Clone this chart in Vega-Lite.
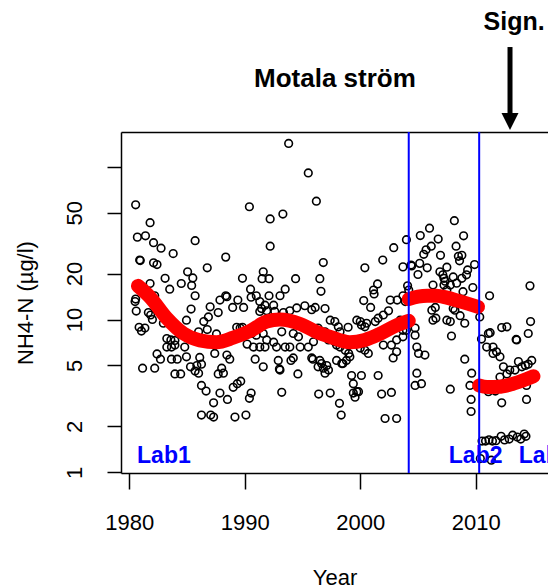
{
  "$schema": "https://vega.github.io/schema/vega-lite/v6.json",
  "width": 427,
  "height": 341,
  "autosize": {"type": "none"},
  "padding": {"left": 121, "top": 132, "right": 0, "bottom": 115},
  "background": "white",
  "config": {"view": {"stroke": null}, "font": "Liberation Sans"},
  "resolve": {"axis": {"x": "independent"}},
  "datasets": {
    "obs": [
      {"year":1993.8,"nh4":142},{"year":1995.5,"nh4":91},{"year":1996.2,"nh4":59.5},{"year":1980.55,"nh4":56.3},{"year":1990.4,"nh4":54.7},{"year":1993.3,"nh4":49},{"year":1992.2,"nh4":45.5},{"year":1981.8,"nh4":43},{"year":1980.7,"nh4":34.6},{"year":1981.4,"nh4":35.3},{"year":1982.1,"nh4":31.8},{"year":1982.75,"nh4":29.3},{"year":1985.7,"nh4":32.8},{"year":1983.8,"nh4":27},{"year":1992.2,"nh4":30.2},{"year":1988.35,"nh4":25.6},{"year":1980.9,"nh4":24.5},{"year":1980.95,"nh4":24.3},{"year":1982.1,"nh4":23.5},{"year":1982.4,"nh4":22.9},{"year":1986.75,"nh4":21.8},{"year":1996.8,"nh4":23.6},{"year":1985.05,"nh4":20.5},{"year":1985.5,"nh4":18.7},{"year":1983.1,"nh4":18.6},{"year":1981.8,"nh4":17.2},{"year":1984.5,"nh4":17.2},{"year":1985.4,"nh4":16.7},{"year":1983.5,"nh4":15.8},{"year":1989.8,"nh4":18.6},{"year":1990.5,"nh4":15.8},{"year":1991.6,"nh4":20.5},{"year":1991.5,"nh4":18.5},{"year":1992.1,"nh4":18.5},{"year":1994.4,"nh4":18.5},{"year":1996.5,"nh4":18.5},{"year":1996.6,"nh4":15.3},{"year":1993.5,"nh4":15.8},{"year":1993.05,"nh4":14.3},{"year":1992.1,"nh4":14.3},{"year":1991.0,"nh4":14.3},{"year":1988.35,"nh4":14.3},{"year":1987.85,"nh4":13.4},{"year":1989.4,"nh4":13.4},{"year":1985.7,"nh4":14.3},{"year":1982.2,"nh4":14.3},{"year":1980.55,"nh4":13.6},
      {"year":2008.15,"nh4":44.3},{"year":2006.0,"nh4":39.6},{"year":2005.2,"nh4":35.4},{"year":2008.95,"nh4":35.3},{"year":2006.75,"nh4":33.6},{"year":2004.0,"nh4":33.3},{"year":2002.9,"nh4":29.5},{"year":2006.15,"nh4":30.2},{"year":2005.7,"nh4":28.6},{"year":2008.3,"nh4":30.2},{"year":2005.5,"nh4":26.7},{"year":2001.95,"nh4":24.5},{"year":2006.95,"nh4":26.3},{"year":2008.5,"nh4":25.9},{"year":2008.8,"nh4":26.3},{"year":2008.6,"nh4":24.2},{"year":2000.4,"nh4":21.8},{"year":2004.4,"nh4":22.7},{"year":2004.45,"nh4":22.4},{"year":2005.15,"nh4":23.3},{"year":2005.8,"nh4":21.8},{"year":2007.5,"nh4":22},{"year":2009.9,"nh4":22.9},{"year":2009.3,"nh4":21.1},{"year":2009.2,"nh4":19.6},{"year":2005.0,"nh4":19.7},{"year":2006.9,"nh4":20.5},{"year":2007.15,"nh4":19.6},{"year":2007.25,"nh4":18.6},{"year":2007.35,"nh4":17.8},{"year":2008.35,"nh4":17.3},{"year":2008.8,"nh4":18.6},{"year":2009.75,"nh4":16.2},{"year":2008.9,"nh4":15.2},{"year":2011.2,"nh4":14.3},{"year":2014.7,"nh4":16.6},{"year":2001.5,"nh4":17.1},{"year":2001.15,"nh4":15.6},{"year":2001.2,"nh4":14.7},{"year":2000.3,"nh4":13.3},{"year":2002.6,"nh4":13.4},{"year":2003.2,"nh4":13.4},{"year":2004.1,"nh4":16.6},{"year":2004.2,"nh4":15.6},{"year":2003.7,"nh4":14.3},{"year":2006.3,"nh4":16.8},{"year":2007.25,"nh4":16.8},{"year":2007.5,"nh4":15.6},
      {"year":1980.5,"nh4":13.1},{"year":1980.6,"nh4":11.35},{"year":1981.65,"nh4":11.1},{"year":1981.85,"nh4":10.7},{"year":1982.0,"nh4":10.0},{"year":1980.85,"nh4":8.9},{"year":1981.05,"nh4":8.4},{"year":1981.35,"nh4":8.8},{"year":1982.95,"nh4":9.45},{"year":1984.95,"nh4":9.9},{"year":1985.35,"nh4":11.7},{"year":1987.0,"nh4":12.1},{"year":1986.85,"nh4":10.4},{"year":1986.45,"nh4":9.7},{"year":1987.7,"nh4":11.1},{"year":1988.45,"nh4":14.1},{"year":1988.95,"nh4":12},{"year":1989.9,"nh4":12},{"year":1990.55,"nh4":14},{"year":1991.3,"nh4":13.1},{"year":1991.45,"nh4":11.8},{"year":1986.0,"nh4":8.3},{"year":1986.75,"nh4":8.6},{"year":1987.55,"nh4":8.05},{"year":1989.3,"nh4":8.9},{"year":1989.6,"nh4":8.8},{"year":1989.8,"nh4":8.9},{"year":1990.6,"nh4":8.1},{"year":1991.0,"nh4":7.9},{"year":1983.25,"nh4":7.5},{"year":1983.6,"nh4":7.35},{"year":1983.95,"nh4":7.3},{"year":1983.25,"nh4":6.6},{"year":1983.65,"nh4":6.6},{"year":1983.95,"nh4":6.8},{"year":1984.8,"nh4":6.6},{"year":1990.2,"nh4":6.9},{"year":1990.75,"nh4":6.6},{"year":1982.4,"nh4":5.95},{"year":1982.7,"nh4":5.5},{"year":1983.65,"nh4":5.5},{"year":1984.15,"nh4":5.5},{"year":1984.95,"nh4":5.7},{"year":1986.1,"nh4":5.65},{"year":1986.25,"nh4":5.1},{"year":1987.4,"nh4":6.0},{"year":1988.45,"nh4":5.85},{"year":1988.7,"nh4":5.5},{"year":1990.9,"nh4":5.5},{"year":1981.15,"nh4":4.8},{"year":1982.2,"nh4":4.8},{"year":1983.95,"nh4":4.4},{"year":1984.45,"nh4":4.4},{"year":1985.3,"nh4":4.9},{"year":1985.7,"nh4":4.6},{"year":1986.0,"nh4":4.45},{"year":1985.85,"nh4":5.0},{"year":1987.7,"nh4":4.4},{"year":1988.15,"nh4":4.45},{"year":1988.0,"nh4":4.8},{"year":1986.25,"nh4":3.7},{"year":1986.65,"nh4":3.4},{"year":1987.3,"nh4":2.85},{"year":1987.85,"nh4":3.3},{"year":1988.5,"nh4":3.0},{"year":1989.0,"nh4":3.6},{"year":1989.35,"nh4":3.8},{"year":1989.65,"nh4":3.95},{"year":1990.55,"nh4":3.3},{"year":1990.4,"nh4":3.05},{"year":1986.25,"nh4":2.37},{"year":1987.05,"nh4":2.37},{"year":1987.3,"nh4":2.3},{"year":1989.15,"nh4":2.3},{"year":1990.1,"nh4":2.37},
      {"year":1993.2,"nh4":3.34},{"year":1996.4,"nh4":3.25},{"year":1997.4,"nh4":3.3},{"year":1993.05,"nh4":4.67},{"year":1994.6,"nh4":4.4},{"year":1995.9,"nh4":5.5},{"year":1996.65,"nh4":5.15},{"year":1996.8,"nh4":4.8},{"year":1995.5,"nh4":6.6},
      {"year":2003.7,"nh4":22.1},{"year":2000.9,"nh4":12.0},{"year":2002.45,"nh4":11.4},{"year":2003.9,"nh4":13.1},{"year":1991.75,"nh4":12.4},{"year":1992.5,"nh4":12.4},{"year":1991.3,"nh4":11.3},{"year":1991.9,"nh4":11.4},{"year":1992.6,"nh4":11.3},{"year":1993.35,"nh4":11.1},{"year":1993.9,"nh4":11.4},{"year":1994.5,"nh4":11.9},{"year":1995.2,"nh4":12.3},{"year":1995.8,"nh4":11.6},{"year":1996.1,"nh4":12},{"year":1996.95,"nh4":11.8},{"year":1997.4,"nh4":9.9},{"year":1997.8,"nh4":9.7},{"year":1998.1,"nh4":8.95},{"year":1998.25,"nh4":8.3},{"year":1999.7,"nh4":9.9},{"year":2000.0,"nh4":9.7},{"year":2000.1,"nh4":9.2},{"year":2000.4,"nh4":8.95},{"year":2000.55,"nh4":9.45},{"year":2001.3,"nh4":9.7},{"year":2001.55,"nh4":10.2},{"year":2002.0,"nh4":10.7},{"year":1998.95,"nh4":8.9},{"year":1991.3,"nh4":8.8},{"year":1991.6,"nh4":8.1},{"year":1991.9,"nh4":7.35},{"year":1991.75,"nh4":6.6},{"year":1991.3,"nh4":6.6},{"year":1992.5,"nh4":7.1},{"year":1992.75,"nh4":6.6},{"year":1993.2,"nh4":8.3},{"year":1993.5,"nh4":6.6},{"year":1993.9,"nh4":6.6},{"year":1994.2,"nh4":8.1},{"year":1994.65,"nh4":7.7},{"year":1994.8,"nh4":6.6},{"year":1995.05,"nh4":9.2},{"year":1995.65,"nh4":8.5},{"year":1995.95,"nh4":7.15},{"year":1996.35,"nh4":8.8},{"year":1996.95,"nh4":8.3},{"year":1997.25,"nh4":7.35},{"year":1997.8,"nh4":7.15},{"year":1997.95,"nh4":6.8},{"year":1998.25,"nh4":6.6},{"year":1998.7,"nh4":6.3},{"year":1999.0,"nh4":6.0},{"year":1999.1,"nh4":5.7},{"year":1998.8,"nh4":5.4},{"year":1998.5,"nh4":5.15},{"year":2000.0,"nh4":6.5},{"year":2000.4,"nh4":6.3},{"year":2000.7,"nh4":6.0},{"year":2002.0,"nh4":6.8},{"year":2002.7,"nh4":6.8},{"year":2003.15,"nh4":7.35},{"year":2002.85,"nh4":5.6},{"year":2003.7,"nh4":8.5},{"year":1991.6,"nh4":4.9},{"year":1992.9,"nh4":5.4},{"year":1993.0,"nh4":4.75},{"year":1994.2,"nh4":5.6},{"year":1994.0,"nh4":5.4},{"year":1995.8,"nh4":5.6},{"year":1996.5,"nh4":5.4},{"year":1996.35,"nh4":4.9},{"year":1997.1,"nh4":5.0},{"year":1996.95,"nh4":4.45},{"year":1997.25,"nh4":4.67},{"year":1997.95,"nh4":5.4},{"year":1998.4,"nh4":5.15},{"year":1999.25,"nh4":4.3},{"year":1999.4,"nh4":3.8},{"year":1999.7,"nh4":3.37},{"year":1999.55,"nh4":3.1},{"year":2000.1,"nh4":4.3},{"year":2001.55,"nh4":4.3},{"year":2003.15,"nh4":6.15},{"year":1998.2,"nh4":2.83},{"year":1998.35,"nh4":2.37},{"year":1999.4,"nh4":3.3},{"year":1999.85,"nh4":3.37},{"year":2001.85,"nh4":3.25},{"year":2002.7,"nh4":3.33},{"year":2002.15,"nh4":2.25},{"year":2003.15,"nh4":2.25},
      {"year":2007.8,"nh4":16.8},{"year":2008.05,"nh4":19},{"year":2006.2,"nh4":11.5},{"year":2006.5,"nh4":12},{"year":2006.3,"nh4":9.9},{"year":2006.55,"nh4":10.2},{"year":2007.5,"nh4":9.9},{"year":2007.8,"nh4":9.7},{"year":2008.05,"nh4":11.8},{"year":2008.2,"nh4":11.5},{"year":2008.65,"nh4":10.6},{"year":2009.05,"nh4":9.45},{"year":2003.45,"nh4":9.9},{"year":2003.7,"nh4":7.7},{"year":2004.0,"nh4":8.5},{"year":2004.75,"nh4":8.8},{"year":2004.75,"nh4":7.9},{"year":2007.9,"nh4":7.8},{"year":2010.35,"nh4":10.4},{"year":2010.5,"nh4":7.45},{"year":2011.1,"nh4":8.1},{"year":2010.95,"nh4":6.6},{"year":2011.5,"nh4":6.6},{"year":2011.8,"nh4":6.15},{"year":2012.1,"nh4":5.7},{"year":2011.5,"nh4":6.0},{"year":2012.7,"nh4":8.95},{"year":2013.5,"nh4":7.4},{"year":2014.55,"nh4":8.1},{"year":2014.75,"nh4":9.7},{"year":2004.9,"nh4":6.6},{"year":2005.05,"nh4":6.0},{"year":2005.6,"nh4":5.85},{"year":2004.9,"nh4":4.45},{"year":2005.3,"nh4":3.8},{"year":2004.75,"nh4":3.7},{"year":2009.05,"nh4":5.5},{"year":2009.65,"nh4":4.45},{"year":2007.8,"nh4":3.5},{"year":2009.5,"nh4":3.7},{"year":2012.4,"nh4":4.9},{"year":2012.95,"nh4":4.67},{"year":2013.7,"nh4":5.3},{"year":2014.0,"nh4":4.9},{"year":2013.4,"nh4":4.67},{"year":2014.3,"nh4":5.0},{"year":2014.55,"nh4":5.1},{"year":2014.85,"nh4":5.4},{"year":2012.1,"nh4":4.2},{"year":2012.7,"nh4":4.4},
      {"year":2009.6,"nh4":3.0},{"year":2009.6,"nh4":2.5},{"year":2012.25,"nh4":2.85},{"year":2014.4,"nh4":3.0},{"year":2011.1,"nh4":3.37},{"year":2011.7,"nh4":3.4},{"year":2014.4,"nh4":3.7},{"year":2011.25,"nh4":8.2},{"year":2012.25,"nh4":8.85},{"year":2013.55,"nh4":7.35},
      {"year":2010.55,"nh4":1.6},{"year":2010.85,"nh4":1.6},{"year":2011.15,"nh4":1.63},{"year":2011.45,"nh4":1.6},{"year":2011.75,"nh4":1.61},{"year":2012.2,"nh4":1.72},{"year":2012.5,"nh4":1.63},{"year":2012.9,"nh4":1.65},{"year":2013.2,"nh4":1.75},{"year":2013.6,"nh4":1.7},{"year":2013.9,"nh4":1.65},{"year":2014.2,"nh4":1.78},{"year":2014.35,"nh4":1.72},{"year":2010.4,"nh4":1.23},{"year":2011.35,"nh4":1.2}
    ],
    "smooth": [
      {"seg":"a","year":1980.75,"nh4":16.6},{"seg":"a","year":1981.8,"nh4":14.0},{"seg":"a","year":1983.25,"nh4":10.2},{"seg":"a","year":1984.7,"nh4":8.1},{"seg":"a","year":1986.1,"nh4":7.3},{"seg":"a","year":1987.55,"nh4":7.1},{"seg":"a","year":1989.0,"nh4":7.6},{"seg":"a","year":1990.45,"nh4":8.4},{"seg":"a","year":1991.9,"nh4":9.7},{"seg":"a","year":1993.05,"nh4":10.0},{"seg":"a","year":1994.8,"nh4":9.35},{"seg":"a","year":1996.2,"nh4":8.3},{"seg":"a","year":1997.4,"nh4":7.7},{"seg":"a","year":1999.1,"nh4":7.1},{"seg":"a","year":2000.4,"nh4":7.35},{"seg":"a","year":2001.7,"nh4":8.05},{"seg":"a","year":2003.0,"nh4":9.05},{"seg":"a","year":2004.2,"nh4":9.8},
      {"seg":"b","year":2004.2,"nh4":13.6},{"seg":"b","year":2005.0,"nh4":14.1},{"seg":"b","year":2005.8,"nh4":14.3},{"seg":"b","year":2006.6,"nh4":14.3},{"seg":"b","year":2007.5,"nh4":13.9},{"seg":"b","year":2008.4,"nh4":13.3},{"seg":"b","year":2009.3,"nh4":12.7},{"seg":"b","year":2010.2,"nh4":12.1},
      {"seg":"c","year":2010.3,"nh4":3.7},{"seg":"c","year":2011.0,"nh4":3.62},{"seg":"c","year":2012.0,"nh4":3.63},{"seg":"c","year":2013.0,"nh4":3.75},{"seg":"c","year":2014.0,"nh4":3.97},{"seg":"c","year":2015.0,"nh4":4.25}
    ],
    "breaks": [{"year":2004.2},{"year":2010.3}],
    "labs": [{"year":1980.67,"nh4":1.15,"t":"Lab1"},{"year":2007.67,"nh4":1.15,"t":"Lab2"},{"year":2013.73,"nh4":1.15,"t":"Lab3"}],
    "heading": [{"year":1997.81,"nh4":330.9,"t":"Motala ström"}],
    "sign": [{"year":2013.32,"nh4":784,"t":"Sign.","top":607,"bot":208,"head":197.6}]
  },
  "layer": [
    {
      "data": {"name": "obs"},
      "mark": {"type": "point", "shape": "circle", "filled": false, "stroke": "black", "strokeWidth": 1.6, "size": 58, "opacity": 1},
      "encoding": {
        "x": {"field": "year", "type": "quantitative",
          "scale": {"domain": [1979.281, 2016.26], "nice": false, "zero": false},
          "axis": {"orient": "bottom", "values": [1980, 1990, 2000, 2010], "format": "d", "grid": false, "tickSize": 16, "tickWidth": 1.5, "tickColor": "black", "domainColor": "black", "domainWidth": 1.5, "labelFontSize": 22, "labelColor": "black", "labelPadding": 23, "labelFlush": false, "labelOverlap": false, "title": "Year", "titleFontSize": 22, "titleFontWeight": "normal", "titleColor": "black", "titlePadding": 34}},
        "y": {"field": "nh4", "type": "quantitative",
          "scale": {"type": "log", "domain": [0.9895, 168.7], "nice": false},
          "axis": {"orient": "left", "values": [1, 2, 5, 10, 20, 50, 100], "labelExpr": "datum.value == 100 ? '' : datum.label", "grid": false, "tickSize": 14, "tickWidth": 1.5, "tickColor": "black", "domainColor": "black", "domainWidth": 1.5, "labelFontSize": 22, "labelColor": "black", "labelAngle": -90, "labelAlign": "center", "labelBaseline": "bottom", "labelPadding": 21, "labelOverlap": false, "labelFlush": false, "title": "NH4-N (µg/l)", "titleFontSize": 22, "titleFontWeight": "normal", "titleColor": "black", "titlePadding": 26}}
      }
    },
    {
      "data": {"name": "smooth"},
      "mark": {"type": "line", "color": "#FF0000", "strokeWidth": 14, "strokeCap": "round", "strokeJoin": "round", "interpolate": "monotone"},
      "encoding": {
        "x": {"field": "year", "type": "quantitative", "axis": null},
        "y": {"field": "nh4", "type": "quantitative"},
        "detail": {"field": "seg"}
      }
    },
    {
      "data": {"name": "breaks"},
      "mark": {"type": "rule", "color": "#0000FF", "strokeWidth": 2},
      "encoding": {
        "x": {"field": "year", "type": "quantitative", "axis": {"orient": "top", "domain": true, "domainColor": "black", "domainWidth": 1.5, "ticks": false, "labels": false, "grid": false, "title": null}}
      }
    },
    {
      "data": {"name": "labs"},
      "mark": {"type": "text", "color": "#0000FF", "fontSize": 23, "fontWeight": "bold", "align": "left", "baseline": "alphabetic"},
      "encoding": {
        "x": {"field": "year", "type": "quantitative", "axis": null},
        "y": {"field": "nh4", "type": "quantitative"},
        "text": {"field": "t"}
      }
    },
    {
      "data": {"name": "heading"},
      "mark": {"type": "text", "color": "black", "fontSize": 26, "fontWeight": "bold", "align": "center", "baseline": "alphabetic"},
      "encoding": {
        "x": {"field": "year", "type": "quantitative", "axis": null},
        "y": {"field": "nh4", "type": "quantitative"},
        "text": {"field": "t"}
      }
    },
    {
      "data": {"name": "sign"},
      "mark": {"type": "text", "color": "black", "fontSize": 25, "fontWeight": "bold", "align": "center", "baseline": "alphabetic"},
      "encoding": {
        "x": {"field": "year", "type": "quantitative", "axis": null},
        "y": {"field": "nh4", "type": "quantitative"},
        "text": {"field": "t"}
      }
    },
    {
      "data": {"name": "sign"},
      "mark": {"type": "rule", "color": "black", "strokeWidth": 5},
      "encoding": {
        "x": {"datum": 2012.97, "type": "quantitative", "axis": null},
        "y": {"field": "top", "type": "quantitative"},
        "y2": {"field": "bot"}
      }
    },
    {
      "data": {"name": "sign"},
      "mark": {"type": "point", "shape": "M-1,-1L1,-1L0,1Z", "filled": true, "color": "black", "size": 289, "opacity": 1},
      "encoding": {
        "x": {"datum": 2012.97, "type": "quantitative", "axis": null},
        "y": {"field": "head", "type": "quantitative"}
      }
    }
  ]
}
